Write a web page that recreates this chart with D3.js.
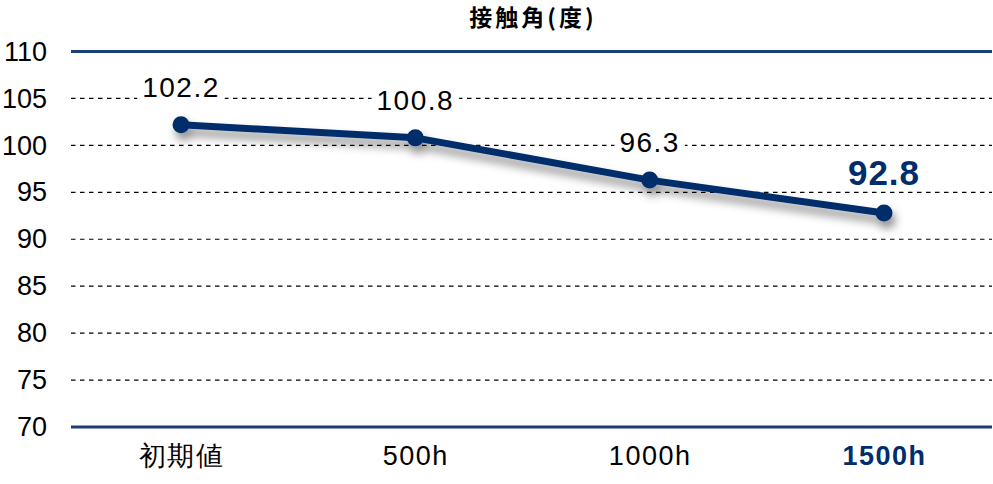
<!DOCTYPE html>
<html>
<head>
<meta charset="utf-8">
<script src="https://cdn.jsdelivr.net/npm/d3@7"></script>
<style>
  body { margin: 0; background: #fff; }
  svg { display: block; font-family: "Liberation Sans", Arial, "Noto Sans CJK JP", sans-serif; }
</style>
</head>
<body>
<script>
const navy = "#002d6b";

// data
const categories = ["初期値", "500h", "1000h", "1500h"];
const angles = [102.2, 100.8, 96.3, 92.8];
const yTicks = [70, 75, 80, 85, 90, 95, 100, 105, 110];
const title = "接触角(度)";

var width = 993,
  height = 484,
  left = 71,
  right = 992;

var svg = d3
  .select("body")
  .append("svg")
  .attr("width", width)
  .attr("height", height);

var defs = svg.append("defs");
var shadow = defs
  .append("filter")
  .attr("id", "shadow")
  .attr("x", "-10%")
  .attr("y", "-50%")
  .attr("width", "130%")
  .attr("height", "250%");
shadow
  .append("feDropShadow")
  .attr("dx", 3)
  .attr("dy", 7)
  .attr("stdDeviation", 5)
  .attr("flood-color", "#000")
  .attr("flood-opacity", 0.45);

var xScale = d3.scalePoint().domain(categories).range([181, 884]);

var yScale = d3.scaleLinear().domain([70, 110]).range([427, 51.5]);

// gridlines
svg
  .append("g")
  .selectAll("line")
  .data(yTicks)
  .enter()
  .append("line")
  .attr("x1", left)
  .attr("x2", right)
  .attr("y1", (d) => yScale(d))
  .attr("y2", (d) => yScale(d))
  .style("stroke", (d) => (d == 70 || d == 110 ? "#1d3f78" : "#000"))
  .style("stroke-width", (d) => (d == 70 || d == 110 ? 3 : 1.2))
  .style("stroke-dasharray", (d) => (d == 70 || d == 110 ? null : "4.5,4.5"));

// y axis labels
var yAxis = d3.axisLeft(yScale).tickValues(yTicks).tickSize(0).tickPadding(0);
svg
  .append("g")
  .attr("transform", "translate(47,0)")
  .call(yAxis)
  .call((g) => g.select(".domain").remove())
  .selectAll("text")
  .attr("font-family", null)
  .style("font-size", "27px")
  .style("fill", "#000");

// x axis labels
var xAxis = d3.axisBottom(xScale).tickSize(0).tickPadding(0);
svg
  .append("g")
  .attr("transform", "translate(0,446)")
  .call(xAxis)
  .call((g) => g.select(".domain").remove())
  .selectAll("text")
  .attr("font-family", null)
  .attr("dy", "0.71em")
  .style("font-size", "27px")
  .style("letter-spacing", "1.5px")
  .style("font-weight", (d, i) => (i == categories.length - 1 ? "bold" : "normal"))
  .style("fill", (d, i) => (i == categories.length - 1 ? navy : "#000"));

// title
svg
  .append("text")
  .text(title)
  .attr("x", 533)
  .attr("y", 26)
  .attr("text-anchor", "middle")
  .style("font-family", "'Noto Sans CJK JP', sans-serif")
  .style("font-weight", "bold")
  .style("font-size", "23px")
  .style("letter-spacing", "3px");

// line with markers
var line = d3
  .line()
  .x((d, i) => xScale(categories[i]))
  .y((d) => yScale(d));

var series = svg.append("g").attr("filter", "url(#shadow)");
series
  .append("path")
  .datum(angles)
  .attr("d", line)
  .style("fill", "none")
  .style("stroke", navy)
  .style("stroke-width", 7)
  .style("stroke-linejoin", "round");
series
  .selectAll("circle")
  .data(angles)
  .enter()
  .append("circle")
  .attr("cx", (d, i) => xScale(categories[i]))
  .attr("cy", (d) => yScale(d))
  .attr("r", 8.5)
  .style("fill", navy);

// value labels with white background
var labels = svg
  .append("g")
  .selectAll("g")
  .data(angles)
  .enter()
  .append("g");
labels
  .append("text")
  .attr("x", (d, i) => xScale(categories[i]))
  .attr("y", (d) => yScale(d) - 28)
  .attr("text-anchor", "middle")
  .text((d) => d.toFixed(1))
  .style("font-size", (d, i) => (i == angles.length - 1 ? "35px" : "28px"))
  .style("font-weight", (d, i) => (i == angles.length - 1 ? "bold" : "normal"))
  .style("letter-spacing", (d, i) => (i == angles.length - 1 ? "1px" : "1.5px"))
  .style("fill", (d, i) => (i == angles.length - 1 ? navy : "#000"));
labels.each(function () {
  var g = d3.select(this);
  var b = g.select("text").node().getBBox();
  g.insert("rect", "text")
    .attr("x", b.x - 5)
    .attr("y", b.y + 2)
    .attr("width", b.width + 10)
    .attr("height", b.height - 4)
    .style("fill", "#fff");
});
</script>
</body>
</html>
